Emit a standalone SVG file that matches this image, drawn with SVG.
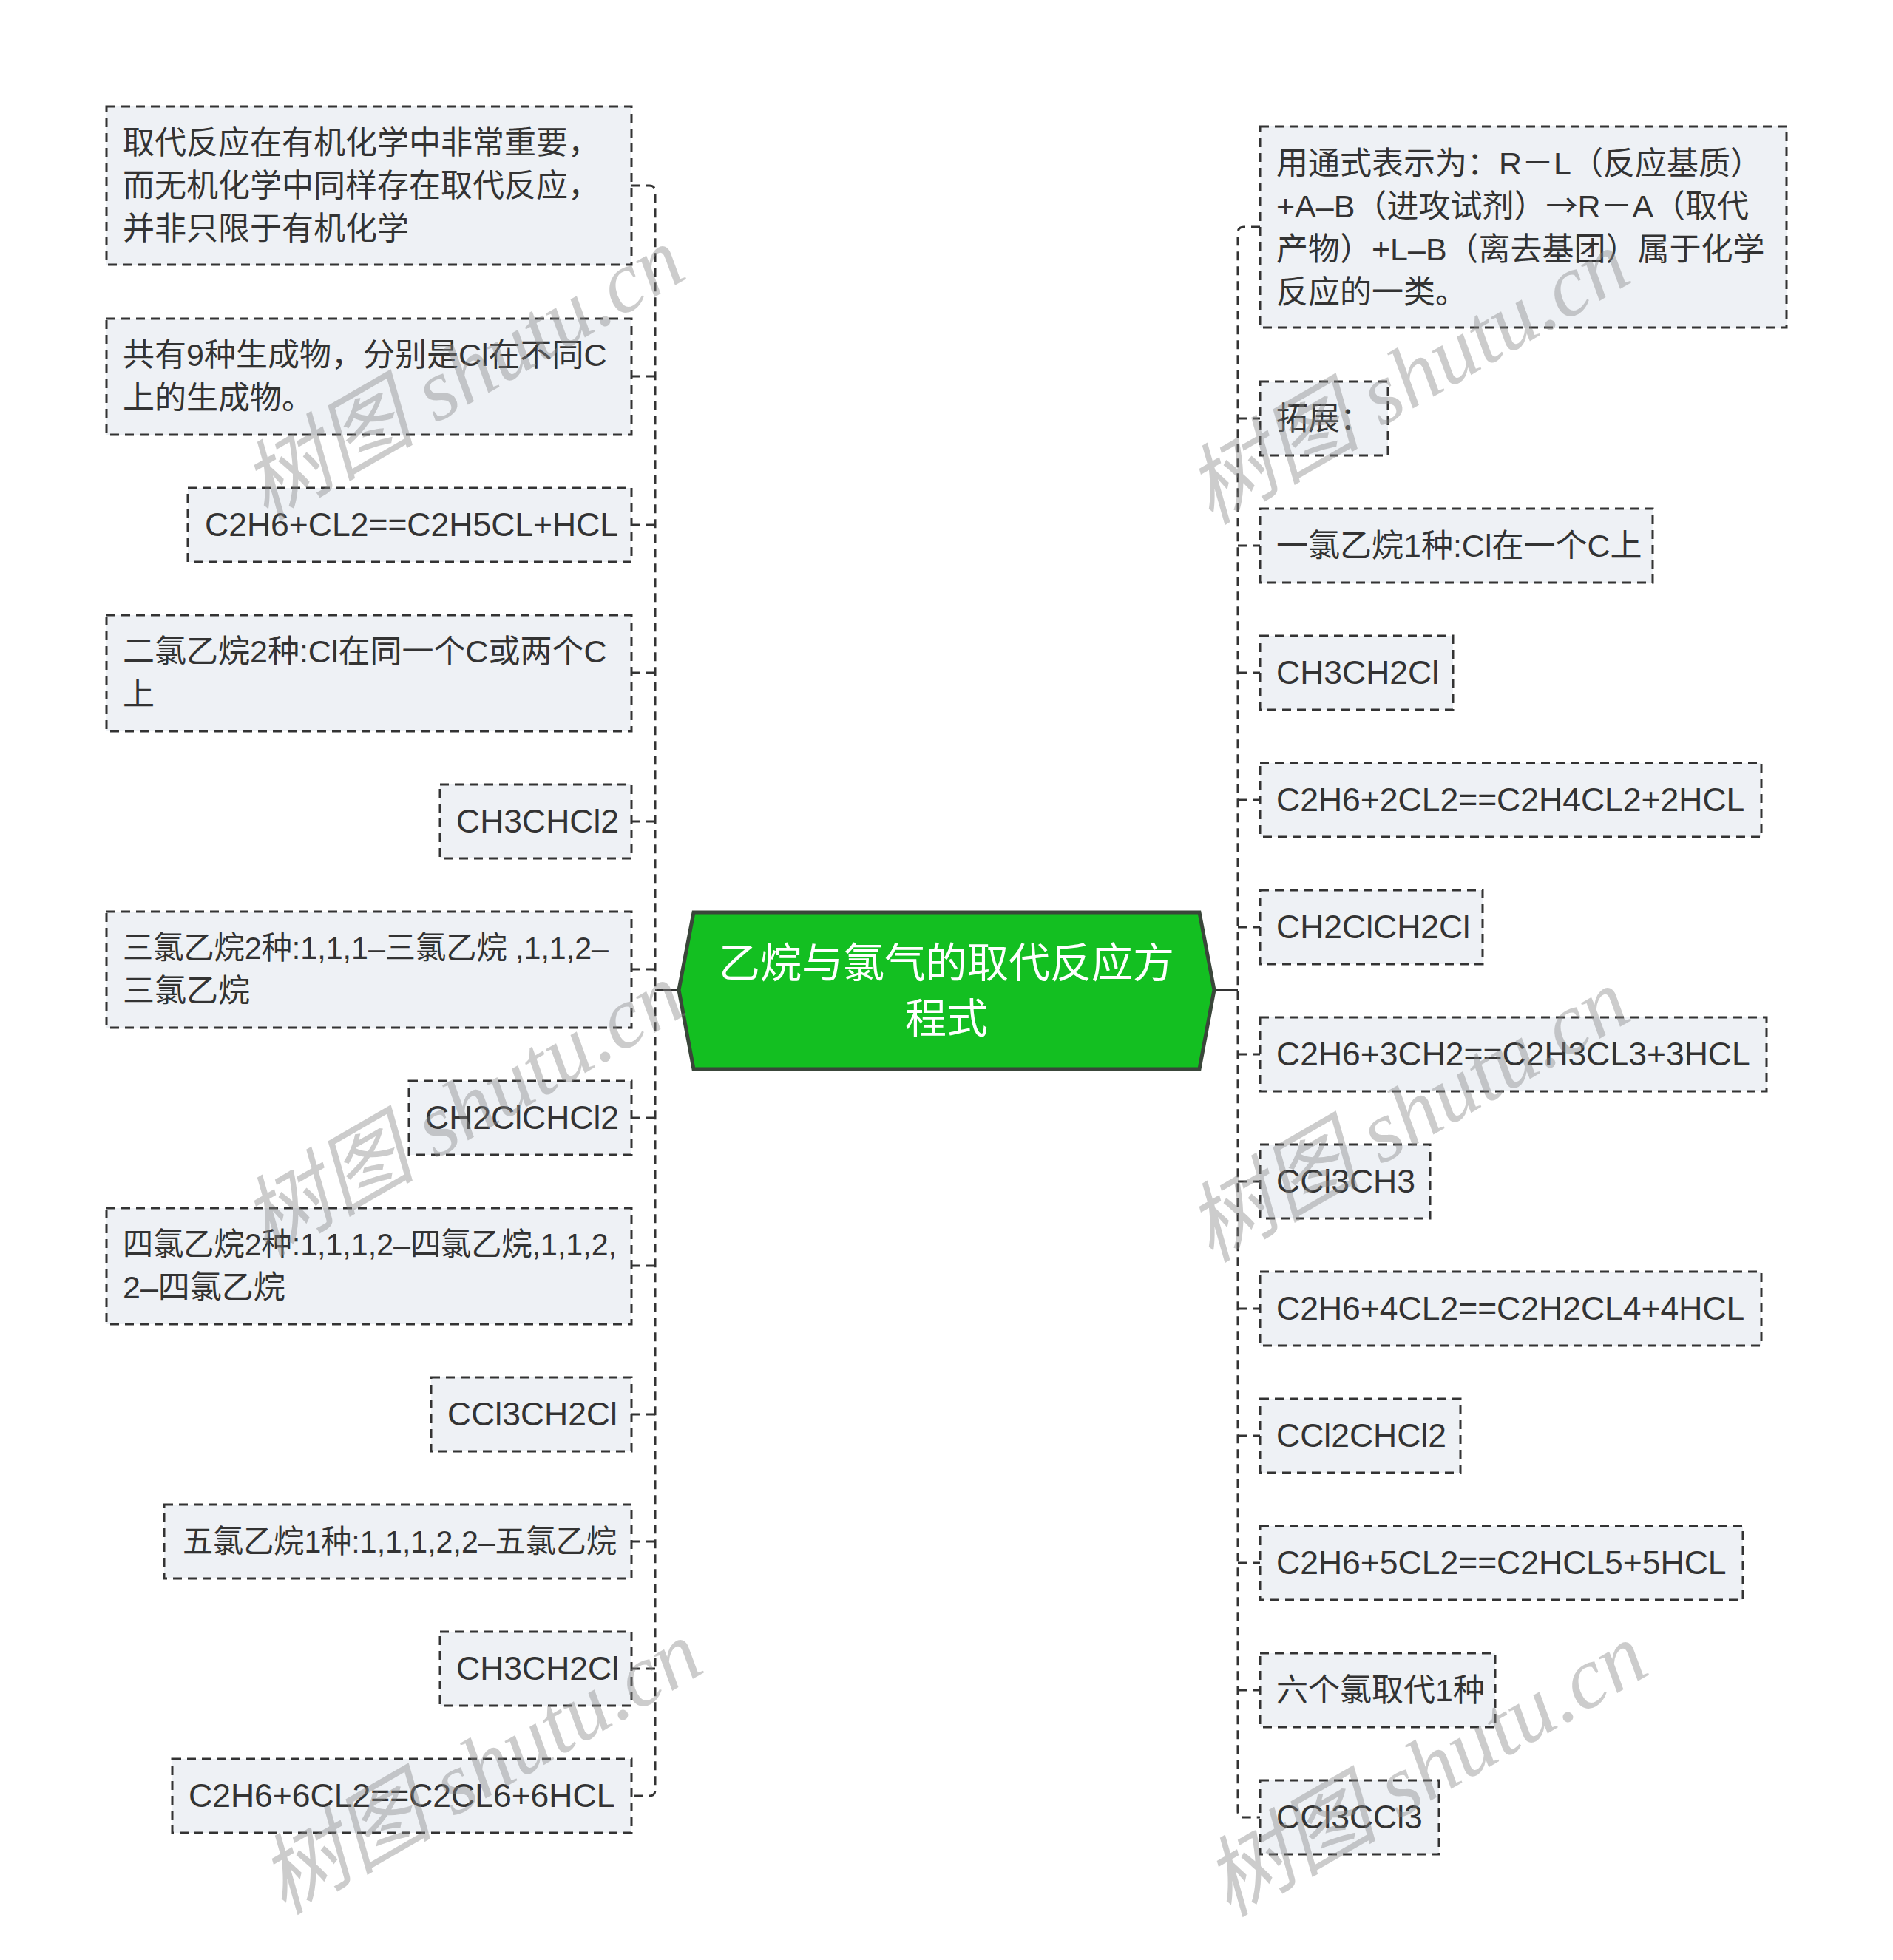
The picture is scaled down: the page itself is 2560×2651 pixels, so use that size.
<svg xmlns="http://www.w3.org/2000/svg" width="2560" height="2651" viewBox="0 0 2560 2651">
<style>
.n rect{fill:#eef1f5;stroke:#333;stroke-width:3;stroke-dasharray:12 8}
.n text{font-family:"Liberation Sans","Noto Sans CJK SC",sans-serif;font-size:43px;fill:#333}
.n text.f{font-size:44.5px}
.c{fill:none;stroke:#333;stroke-width:3;stroke-dasharray:12 8}
.s{fill:none;stroke:#333;stroke-width:4}
.wm{font-family:"Liberation Serif","Noto Sans CJK SC",serif;font-style:italic;font-size:118px;fill:#888;opacity:.42}
</style>
<rect width="2560" height="2651" fill="#fff"/>
<g id="connectors">
<path class="c" d="M854 251 L878 251 Q886 251 886 259 L886 2421 Q886 2429 878 2429 L854 2429"/>
<path class="c" d="M886 509 L854 509 M886 710 L854 710 M886 910 L854 910 M886 1111 L854 1111 M886 1311 L854 1311 M886 1512 L854 1512 M886 1712 L854 1712 M886 1913 L854 1913 M886 2085 L854 2085 M886 2257 L854 2257"/>
<path class="s" d="M918 1339 L886 1339"/>
<path class="c" d="M1704 307 L1682 307 Q1674 307 1674 315 L1674 2450 Q1674 2458 1682 2458 L1704 2458"/>
<path class="c" d="M1674 566 L1704 566 M1674 738 L1704 738 M1674 910 L1704 910 M1674 1082 L1704 1082 M1674 1254 L1704 1254 M1674 1426 L1704 1426 M1674 1598 L1704 1598 M1674 1770 L1704 1770 M1674 1942 L1704 1942 M1674 2114 L1704 2114 M1674 2286 L1704 2286"/>
<path class="s" d="M1642 1339 L1674 1339"/>
</g>
<g id="center">
<polygon points="938,1234 1622,1234 1642,1339 1622,1446 938,1446 918,1339" fill="#13bf21" stroke="#3a463a" stroke-width="5"/>
<text x="1280" y="1322" text-anchor="middle" font-family="'Liberation Sans','Noto Sans CJK SC',sans-serif" font-size="56" fill="#fff">乙烷与氯气的取代反应方</text>
<text x="1280" y="1397" text-anchor="middle" font-family="'Liberation Sans','Noto Sans CJK SC',sans-serif" font-size="56" fill="#fff">程式</text>
</g>
<g id="L1" class="n"><rect x="144" y="144" width="710" height="214"/><text x="166" y="208">取代反应在有机化学中非常重要，</text><text x="166" y="266">而无机化学中同样存在取代反应，</text><text x="166" y="324">并非只限于有机化学</text></g>
<g id="L2" class="n"><rect x="144" y="431" width="710" height="157"/><text x="166" y="495">共有9种生成物，分别是Cl在不同C</text><text x="166" y="553">上的生成物。</text></g>
<g id="L3" class="n"><rect x="254" y="660" width="600" height="100"/><text class="f" x="277" y="725">C2H6+CL2==C2H5CL+HCL</text></g>
<g id="L4" class="n"><rect x="144" y="832" width="710" height="157"/><text x="166" y="896">二氯乙烷2种:Cl在同一个C或两个C</text><text x="166" y="954">上</text></g>
<g id="L5" class="n"><rect x="595" y="1061" width="259" height="100"/><text class="f" x="617" y="1126">CH3CHCl2</text></g>
<g id="L6" class="n"><rect x="144" y="1233" width="710" height="157"/><text x="166" y="1297" textLength="657" lengthAdjust="spacingAndGlyphs">三氯乙烷2种:1,1,1–三氯乙烷 ,1,1,2–</text><text x="166" y="1355">三氯乙烷</text></g>
<g id="L7" class="n"><rect x="553" y="1462" width="301" height="100"/><text class="f" x="575" y="1527">CH2ClCHCl2</text></g>
<g id="L8" class="n"><rect x="144" y="1634" width="710" height="157"/><text x="166" y="1698" textLength="668" lengthAdjust="spacingAndGlyphs">四氯乙烷2种:1,1,1,2–四氯乙烷,1,1,2,</text><text x="166" y="1756">2–四氯乙烷</text></g>
<g id="L9" class="n"><rect x="583" y="1863" width="271" height="100"/><text class="f" x="605" y="1928">CCl3CH2Cl</text></g>
<g id="L10" class="n"><rect x="222" y="2035" width="632" height="100"/><text x="247" y="2100" textLength="587" lengthAdjust="spacingAndGlyphs">五氯乙烷1种:1,1,1,2,2–五氯乙烷</text></g>
<g id="L11" class="n"><rect x="595" y="2207" width="259" height="100"/><text class="f" x="617" y="2272">CH3CH2Cl</text></g>
<g id="L12" class="n"><rect x="233" y="2379" width="621" height="100"/><text class="f" x="255" y="2444">C2H6+6CL2==C2CL6+6HCL</text></g>
<g id="R1" class="n"><rect x="1704" y="171" width="712" height="272"/><text x="1726" y="236">用通式表示为：R－L（反应基质）</text><text x="1726" y="294">+A–B（进攻试剂）<tspan font-family="'Noto Sans CJK SC',sans-serif">→</tspan>R－A（取代</text><text x="1726" y="352">产物）+L–B（离去基团）属于化学</text><text x="1726" y="410">反应的一类。</text></g>
<g id="R2" class="n"><rect x="1704" y="516" width="173" height="100"/><text x="1726" y="581">拓展：</text></g>
<g id="R3" class="n"><rect x="1704" y="688" width="531" height="100"/><text x="1726" y="753">一氯乙烷1种:Cl在一个C上</text></g>
<g id="R4" class="n"><rect x="1704" y="860" width="261" height="100"/><text class="f" x="1726" y="925">CH3CH2Cl</text></g>
<g id="R5" class="n"><rect x="1704" y="1032" width="678" height="100"/><text class="f" x="1726" y="1097">C2H6+2CL2==C2H4CL2+2HCL</text></g>
<g id="R6" class="n"><rect x="1704" y="1204" width="301" height="100"/><text class="f" x="1726" y="1269">CH2ClCH2Cl</text></g>
<g id="R7" class="n"><rect x="1704" y="1376" width="685" height="100"/><text class="f" x="1726" y="1441">C2H6+3CH2==C2H3CL3+3HCL</text></g>
<g id="R8" class="n"><rect x="1704" y="1548" width="230" height="100"/><text class="f" x="1726" y="1613">CCl3CH3</text></g>
<g id="R9" class="n"><rect x="1704" y="1720" width="678" height="100"/><text class="f" x="1726" y="1785">C2H6+4CL2==C2H2CL4+4HCL</text></g>
<g id="R10" class="n"><rect x="1704" y="1892" width="271" height="100"/><text class="f" x="1726" y="1957">CCl2CHCl2</text></g>
<g id="R11" class="n"><rect x="1704" y="2064" width="653" height="100"/><text class="f" x="1726" y="2129">C2H6+5CL2==C2HCL5+5HCL</text></g>
<g id="R12" class="n"><rect x="1704" y="2236" width="318" height="100"/><text x="1726" y="2301">六个氯取代1种</text></g>
<g id="R13" class="n"><rect x="1704" y="2408" width="242" height="100"/><text class="f" x="1726" y="2473">CCl3CCl3</text></g>
<g id="watermarks">
<text class="wm" text-anchor="middle" transform="translate(646 540) rotate(-30)">树图 shutu.cn</text>
<text class="wm" text-anchor="middle" transform="translate(646 1535) rotate(-30)">树图 shutu.cn</text>
<text class="wm" text-anchor="middle" transform="translate(670 2425) rotate(-30)">树图 shutu.cn</text>
<text class="wm" text-anchor="middle" transform="translate(1924 545) rotate(-30)">树图 shutu.cn</text>
<text class="wm" text-anchor="middle" transform="translate(1924 1543) rotate(-30)">树图 shutu.cn</text>
<text class="wm" text-anchor="middle" transform="translate(1948 2428) rotate(-30)">树图 shutu.cn</text>
</g>
</svg>
